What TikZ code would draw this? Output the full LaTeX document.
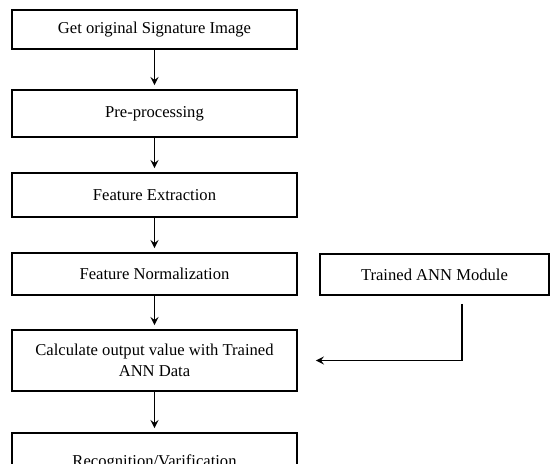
\documentclass[tikz,border=0pt]{standalone}
\usepackage{fontspec}
\setmainfont{Liberation Serif}
\usetikzlibrary{arrows}

\tikzset{
  stepbox/.style={draw, line width=0.8pt, minimum width=142.5pt,
    align=center, inner sep=1pt, font=\fontsize{8.3}{10.5}\selectfont},
  flow/.style={->, >=stealth, line width=0.8pt, shorten >=2pt}
}

\begin{document}
\begin{tikzpicture}[x=0.5pt, y=-0.5pt]

  % --- Rahmen ---
  \useasboundingbox (0,0) rectangle (553,464);
  \clip (0,0) rectangle (553,464);

  % --- Hauptkette ---
  \node[stepbox, minimum height=19.5pt] (get)  at (154.5,29.5)  {Get original Signature Image};
  \node[stepbox, minimum height=23.5pt] (pre)  at (154.5,113.5) {Pre-processing};
  \node[stepbox, minimum height=22pt]   (feat) at (154.5,195)   {Feature Extraction};
  \node[stepbox, minimum height=21pt]   (norm) at (154.5,274)   {Feature Normalization};
  \node[stepbox, minimum height=30.5pt] (calc) at (154.5,360.5)
      {Calculate output value with Trained\\ANN Data};
  \node[stepbox, minimum height=29pt]   (rec)  at (154.5,462)   {Recognition/Varification};

  % --- Trainiertes Netz ---
  \node[stepbox, minimum width=114.5pt, minimum height=20.5pt] (ann) at (434.5,274.5)
      {Trained ANN Module};

  % --- Pfeile ---
  \draw[flow] (get) -- (pre);
  \draw[flow] (pre) -- (feat);
  \draw[flow] (feat) -- (norm);
  \draw[flow] (norm) -- (calc);
  \draw[flow] (calc) -- (rec);
  \draw[flow, shorten <=4pt, shorten >=9pt] ([xshift=13.75pt]ann.south) |- (calc.east);

\end{tikzpicture}
\end{document}
